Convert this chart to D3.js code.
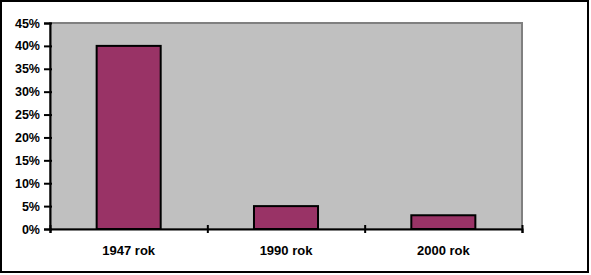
<!DOCTYPE html>
<html>
<head>
<meta charset="utf-8">
<script src="https://cdn.jsdelivr.net/npm/d3@7"></script>
<style>
  body { margin: 0; background: #fff; }
  svg { display: block; font-family: "Liberation Sans", Arial, sans-serif; }
</style>
</head>
<body>
<div id="chart"></div>
<script>
var categories = ['1947 rok', '1990 rok', '2000 rok']
var shares     = [0.40, 0.05, 0.03]
var yTicks     = [0, 0.05, 0.10, 0.15, 0.20, 0.25, 0.30, 0.35, 0.40, 0.45]

var W = 591, H = 275
var plot = {left: 50, right: 522, top: 23, bottom: 229}

var svg = d3.select('#chart')
  .append('svg')
    .attr('width', W)
    .attr('height', H)

// outer frame
svg.append('rect')
  .attr('x', 1).attr('y', 1)
  .attr('width', 587).attr('height', 271)
  .attr('fill', '#fff')
  .attr('stroke', '#000')
  .attr('stroke-width', 2)

// plot area
svg.append('rect')
  .attr('x', plot.left).attr('y', plot.top)
  .attr('width', plot.right - plot.left).attr('height', plot.bottom - plot.top)
  .attr('fill', '#c0c0c0')
  .attr('stroke', '#808080')
  .attr('stroke-width', 2)

var x = d3.scaleBand().domain(categories).range([plot.left, plot.right])
  .paddingInner(0.593).paddingOuter(0.2965)
var y = d3.scaleLinear().domain([0, 0.45]).range([plot.bottom, plot.top])

// bars
svg.selectAll('.bar')
  .data(shares)
  .enter().append('rect')
    .attr('class', 'bar')
    .attr('x', function(d, i) { return x(categories[i]) })
    .attr('y', function(d) { return y(d) })
    .attr('width', x.bandwidth())
    .attr('height', function(d) { return y(0) - y(d) })
    .attr('fill', '#993366')
    .attr('stroke', '#000')
    .attr('stroke-width', 2)

// y-axis
var yAxis = svg.append('g')
  .attr('transform', 'translate(' + plot.left + ',0)')
  .call(d3.axisLeft(y).tickValues(yTicks).tickFormat(d3.format('.0%')).tickSize(6).tickPadding(4))
yAxis.select('.domain').attr('stroke', '#000').attr('stroke-width', 2)
yAxis.selectAll('.tick line').attr('x1', 2).attr('stroke-width', 2)
yAxis.selectAll('text')
  .attr('font-size', 12.5).attr('font-weight', 'bold')
  .attr('font-family', '"Liberation Sans", Arial, sans-serif')
  .attr('fill', '#000')

// x-axis: boundary ticks
var xb = d3.scaleLinear().domain([0, categories.length]).range([plot.left, plot.right])
var xTickAxis = svg.append('g')
  .attr('transform', 'translate(0,' + plot.bottom + ')')
  .call(d3.axisBottom(xb).tickValues(d3.range(categories.length + 1)).tickFormat('').tickSize(4))
xTickAxis.select('.domain').attr('stroke', '#000').attr('stroke-width', 2)
xTickAxis.selectAll('.tick line').attr('y1', -4).attr('stroke-width', 2)

// x-axis: category labels
var xAxis = svg.append('g')
  .attr('transform', 'translate(0,' + plot.bottom + ')')
  .call(d3.axisBottom(x).tickSize(0).tickPadding(17))
xAxis.select('.domain').remove()
xAxis.selectAll('text')
  .attr('font-size', 13).attr('font-weight', 'bold')
  .attr('font-family', '"Liberation Sans", Arial, sans-serif')
  .attr('fill', '#000')
</script>
</body>
</html>
